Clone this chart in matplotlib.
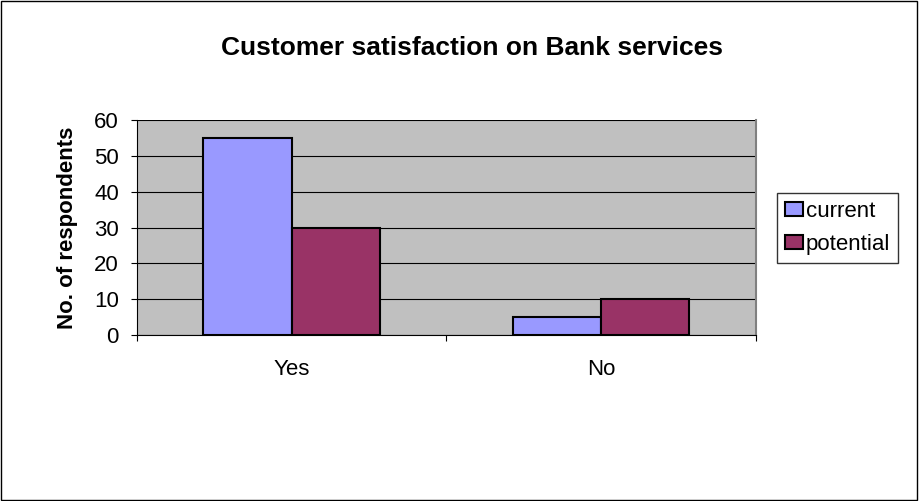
import matplotlib.pyplot as plt
import numpy as np

categories = ['Yes', 'No']
current = [55, 5]
potential = [30, 10]
series_names = ['current', 'potential']

plt.rcParams['font.family'] = ['Liberation Sans', 'DejaVu Sans']

fig = plt.figure(figsize=(9.19, 5.01), dpi=100)
fig.patch.set_facecolor('white')
# outer chart border
fig.add_artist(plt.Rectangle((0.001, 0.002), 0.997, 0.996, transform=fig.transFigure,
                             fill=False, edgecolor='black', linewidth=1))

ax = fig.add_axes([0.149, 0.3313, 0.6736, 0.4291])
ax.set_facecolor('#C0C0C0')

x = np.arange(len(categories))
w = 0.285
ax.bar(x - w / 2, current, w, color='#9999FF', edgecolor='black', linewidth=1.5,
       label=series_names[0], zorder=3)
ax.bar(x + w / 2, potential, w, color='#993366', edgecolor='black', linewidth=1.5,
       label=series_names[1], zorder=3)

ax.set_xlim(-0.5, 1.5)
ax.set_ylim(0, 60)
ax.set_yticks(range(0, 61, 10))
ax.yaxis.grid(True, color='black', linewidth=0.8, zorder=0)
ax.set_axisbelow(True)

ax.set_xticks([-0.5, 0.5, 1.5])
ax.set_xticklabels([])
ax.set_xticks(x, minor=True)
ax.set_xticklabels(categories, minor=True)
ax.tick_params(axis='x', which='minor', length=0, pad=17, labelsize=16)
ax.tick_params(axis='x', which='major', length=4.5, direction='out', color='black')
ax.tick_params(axis='y', length=4.5, direction='out', labelsize=16, pad=8.5)

ax.spines['left'].set_color('black')
ax.spines['bottom'].set_color('black')
ax.spines['top'].set_visible(False)
ax.spines['right'].set_color('#808080')
ax.spines['right'].set_linewidth(1.5)

ax.set_ylabel('No. of respondents', fontsize=16, fontweight='bold')
ax.yaxis.set_label_coords(-0.095, 0.5)
fig.text(0.5136, 0.905, 'Customer satisfaction on Bank services', ha='center', va='center',
         fontsize=19, fontweight='bold')

leg = ax.legend(loc='upper left', bbox_to_anchor=(0.8455, 0.615), bbox_transform=fig.transFigure,
                frameon=True, fancybox=False, fontsize=16, handlelength=0.8, handleheight=0.63,
                handletextpad=0.15, borderpad=0.35, labelspacing=0.55, borderaxespad=0)
leg.get_frame().set_edgecolor('black')
leg.get_frame().set_linewidth(1)

plt.savefig('out.png', dpi=100)
